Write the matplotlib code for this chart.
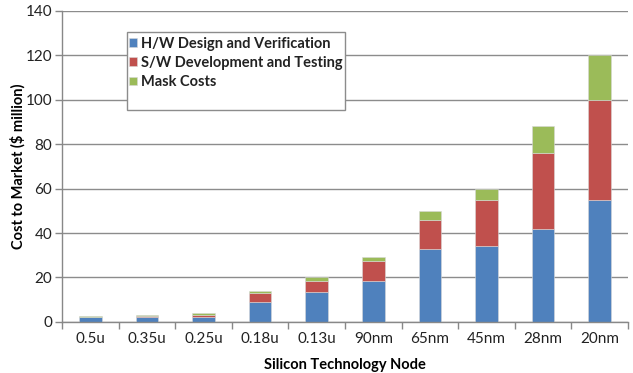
"""Stacked cost-to-market bars per silicon technology node."""

import matplotlib

matplotlib.use("Agg")
import matplotlib.pyplot as plt
import numpy as np
from matplotlib.patches import Rectangle

nodes = ["0.5u", "0.35u", "0.25u", "0.18u", "0.13u", "90nm", "65nm", "45nm", "28nm", "20nm"]
hw_design = [2.0, 2.4, 2.1, 9.0, 13.3, 18.5, 33.0, 34.0, 42.0, 55.0]
sw_dev = [0.3, 0.4, 1.2, 4.0, 5.2, 9.0, 13.0, 21.0, 34.0, 45.0]
mask_costs = [0.2, 0.2, 0.5, 1.0, 1.5, 1.5, 4.0, 5.0, 12.0, 20.0]

series = [
    ("H/W Design and Verification", hw_design, "#4F81BD"),
    ("S/W Development and Testing", sw_dev, "#C0504D"),
    ("Mask Costs", mask_costs, "#9BBB59"),
]

plt.rcParams["font.family"] = ["Lato", "DejaVu Sans"]

fig = plt.figure(figsize=(6.33, 3.73), dpi=100)
ax = fig.add_axes([0.098, 0.137, 0.894, 0.834])

x = np.arange(len(nodes))
bottom = np.zeros(len(nodes))
handles = []
for label, values, color in series:
    bars = ax.bar(x, values, width=0.4, bottom=bottom, color=color, label=label,
                  edgecolor="#d8d8d8", linewidth=0.4, zorder=2)
    handles.append(bars)
    bottom += np.array(values)

ax.set_xlim(-0.5, len(nodes) - 0.5)
ax.set_ylim(0, 140)
ax.set_yticks(range(0, 141, 20))
ax.set_xticks(x)
ax.set_xticklabels(nodes)
ax.set_xticks(np.arange(-0.5, len(nodes), 1.0), minor=True)
ax.tick_params(axis="x", which="major", length=0, labelsize=11, pad=7, colors="#222222")
ax.tick_params(axis="x", which="minor", length=5, color="#888888", width=1)
ax.tick_params(axis="y", length=5, color="#888888", width=1, labelsize=11, pad=2, colors="#222222")

ax.grid(axis="y", color="#8c8c8c", linewidth=1, zorder=0)
ax.set_axisbelow(True)
for side in ("top", "right"):
    ax.spines[side].set_visible(False)
for side in ("left", "bottom"):
    ax.spines[side].set_color("#888888")
    ax.spines[side].set_linewidth(1)

ax.set_xlabel("Silicon Technology Node", fontsize=10.5, fontweight="bold", labelpad=9)
ax.set_ylabel("Cost to Market ($ million)", fontsize=10.5, fontweight="bold", labelpad=0)

# legend box with its own frame, entries packed near the top
ax.add_patch(Rectangle((0.115, 0.682), 0.385, 0.25, transform=ax.transAxes,
                       facecolor="white", edgecolor="#8c8c8c", linewidth=1, zorder=4))
leg = ax.legend(handles=handles, loc="upper left", bbox_to_anchor=(0.108, 0.935),
                frameon=False, fontsize=10.5, handlelength=0.55, handleheight=0.55,
                handletextpad=0.25, labelspacing=0.35, borderaxespad=0)
leg.set_zorder(5)
for text in leg.get_texts():
    text.set_fontweight("bold")
    text.set_color("#222222")

fig.savefig("out.png", dpi=100)
